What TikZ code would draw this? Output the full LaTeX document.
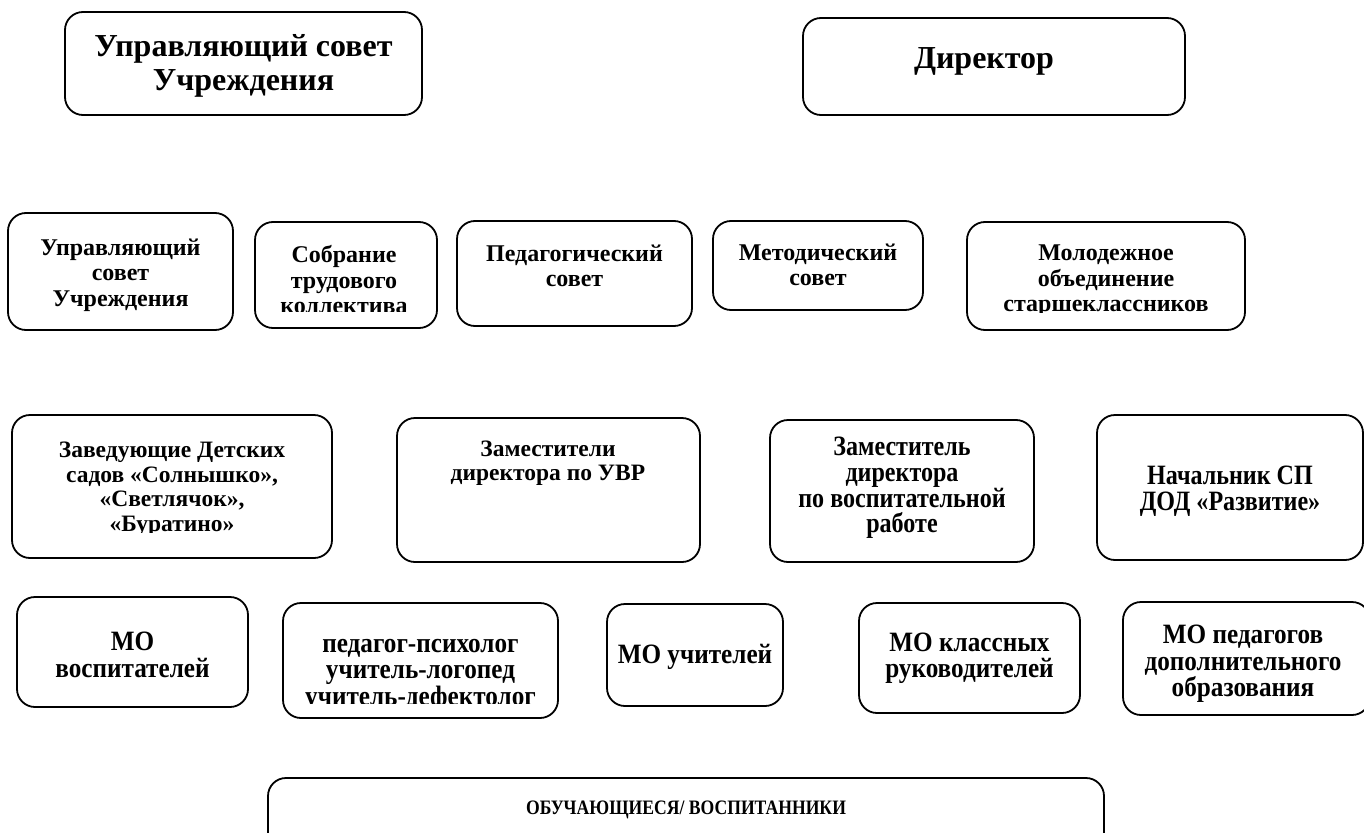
\documentclass[tikz,border=0pt]{standalone}
\usepackage{fontspec}
\setmainfont{Liberation Serif}
\newfontfamily\narrowfont{Liberation Serif}[FakeStretch=0.86]
\newfontfamily\tallfont{Liberation Serif}[FakeStretch=0.9]
\usetikzlibrary{positioning}

\tikzset{
	blok/.style={draw, line width=1.8pt, rounded corners=18pt, inner sep=0pt},
	big/.style={align=center, font=\fontsize{32}{34}\selectfont\bfseries},
	mid/.style={align=center, font=\fontsize{24}{25.5}\selectfont\bfseries},
	small/.style={align=center, font=\fontsize{23.5}{24.5}\selectfont\bfseries},
	narrow/.style={align=center, font=\fontsize{28}{25.7}\narrowfont\bfseries},
	tall/.style={align=center, font=\fontsize{28}{26.5}\tallfont\bfseries},
}

\begin{document}
\begin{tikzpicture}[x=1pt,y=-1pt]
	\useasboundingbox (0,0) rectangle (1364,832);

	% top
	\node[blok, minimum width=357pt, minimum height=103pt] (sovet) at (243.5,63.5) {};
	\node[big] (sovetT) at (243.5,66) {Управляющий совет\\Учреждения};
	\node[blok, minimum width=382pt, minimum height=97pt] (dir) at (994,66.5) {};
	\node[big] (dirT) at (984,61) {Директор};

	% councils
	\node[blok, minimum width=225pt, minimum height=117pt] (uc) at (120.5,271.5) {};
	\node[mid] (ucT) at (120.5,275) {Управляющий\\совет\\Учреждения};
	\node[blok, minimum width=182pt, minimum height=106pt] (sobr) at (346,275) {};
	\begin{scope}
		\clip (255,222) rectangle (437,311);
		\node[mid] (sobrT) at (344,280) {Собрание\\трудового\\коллектива};
	\end{scope}
	\node[blok, minimum width=235pt, minimum height=105pt] (ped) at (574.5,273.5) {};
	\node[mid] (pedT) at (574.5,266) {Педагогический\\совет};
	\node[blok, minimum width=210pt, minimum height=89pt] (met) at (818,265.5) {};
	\node[mid] (metT) at (818,265) {Методический\\совет};
	\node[blok, minimum width=278pt, minimum height=108pt] (mol) at (1106,276) {};
	\begin{scope}
		\clip (967,222) rectangle (1245,312);
		\node[mid] (molT) at (1106,281) {Молодежное\\объединение\\старшеклассников};
	\end{scope}

	% deputies
	\node[blok, minimum width=320pt, minimum height=143pt] (zav) at (172,486.5) {};
	\begin{scope}
		\clip (12,415) rectangle (332,532);
		\node[small] (zavT) at (172,489) {Заведующие Детских\\садов «Солнышко»,\\«Светлячок»,\\«Буратино»};
	\end{scope}
	\node[blok, minimum width=303pt, minimum height=144pt] (uvr) at (548.5,490) {};
	\node[small] (uvrT) at (548,463) {Заместители\\директора по УВР};
	\node[blok, minimum width=264pt, minimum height=142pt] (zvr) at (902,491) {};
	\node[narrow] (zvrT) at (902,488) {Заместитель\\директора\\по воспитательной\\работе};
	\node[blok, minimum width=266pt, minimum height=145pt] (nach) at (1230,487.5) {};
	\node[narrow] (nachT) at (1230,491) {Начальник СП\\ДОД «Развитие»};

	% MO
	\node[blok, minimum width=231pt, minimum height=110pt] (mov) at (132.5,652) {};
	\node[tall] (movT) at (132.5,655) {МО\\воспитателей};
	\node[blok, minimum width=275pt, minimum height=115pt] (psy) at (420.5,660.5) {};
	\begin{scope}
		\clip (283,603) rectangle (558,703);
		\node[tall] (psyT) at (420.5,675) {педагог-психолог\\учитель-логопед\\учитель-дефектолог};
	\end{scope}
	\node[blok, minimum width=176pt, minimum height=102pt] (mou) at (695,655) {};
	\node[tall] (mouT) at (695,657) {МО учителей};
	\node[blok, minimum width=221pt, minimum height=110pt] (mok) at (969.5,658) {};
	\node[tall] (mokT) at (969.5,658) {МО классных\\руководителей};
	\node[blok, minimum width=247pt, minimum height=113pt] (mod) at (1246.5,658.5) {};
	\begin{scope}
		\clip (1123,602) rectangle (1364,702);
		\node[tall] (modT) at (1243,664) {МО педагогов\\дополнительного\\образования};
	\end{scope}

	% pupils
	\node[blok, minimum width=836pt, minimum height=82pt] (obuch) at (686,819) {};
	\node[align=center, font=\fontsize{20.5}{24}\narrowfont\bfseries] (obuchT) at (686,810) {ОБУЧАЮЩИЕСЯ/ ВОСПИТАННИКИ};
\end{tikzpicture}
\end{document}
